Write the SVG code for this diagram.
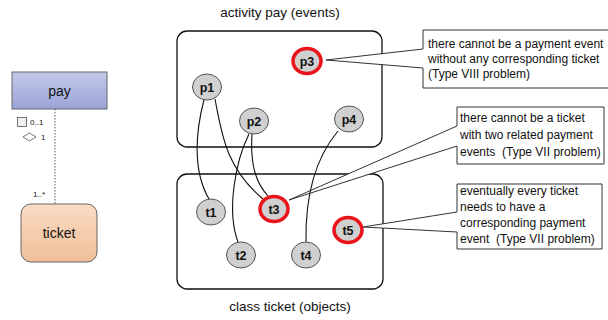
<svg xmlns="http://www.w3.org/2000/svg" width="608" height="320" viewBox="0 0 608 320">
<defs>
<linearGradient id="gPay" x1="0" y1="0" x2="0" y2="1"><stop offset="0" stop-color="#c3c9ea"/><stop offset="1" stop-color="#9aa4d8"/></linearGradient>
<linearGradient id="gTicket" x1="0" y1="0" x2="0" y2="1"><stop offset="0" stop-color="#fadcc4"/><stop offset="1" stop-color="#f0bf98"/></linearGradient>
</defs>
<style>
text{font-family:"Liberation Sans",Arial,sans-serif;fill:#111}
.node ellipse{fill:#d0d0d0;stroke:#555;stroke-width:1}
.node.bad ellipse{stroke:#e8141a;stroke-width:3.5}
.node text{font-size:12.5px;font-weight:bold;text-anchor:middle}
.frame{fill:none;stroke:#111;stroke-width:1.3}
.conn path{fill:none;stroke:#111;stroke-width:1.1}
.callout{fill:#fff;stroke:#333;stroke-width:1}
.ct{font-size:12px}
.small{font-size:8px}
</style>

<!-- UML class diagram -->
<g id="uml-pay">
<rect x="12" y="72" width="95" height="37" fill="url(#gPay)" stroke="#666" stroke-width="1"/>
<text x="59.5" y="96" font-size="14" text-anchor="middle">pay</text>
</g>
<g id="uml-ticket">
<rect x="21" y="204" width="76" height="58" rx="10" fill="url(#gTicket)" stroke="#666" stroke-width="1"/>
<text x="59" y="238" font-size="14" text-anchor="middle">ticket</text>
</g>
<g id="uml-assoc">
<line x1="55" y1="109" x2="55" y2="204" stroke="#555" stroke-width="1" stroke-dasharray="1.5,1.5"/>
<rect x="17.5" y="117.5" width="9" height="9" fill="#eee" stroke="#555" stroke-width="0.8"/>
<text x="30" y="125" class="small">0..1</text>
<polygon points="23,137 29.5,133 36,137 29.5,141" fill="#fff" stroke="#555" stroke-width="0.8"/>
<text x="41" y="140" class="small">1</text>
<text x="33" y="197" class="small">1..*</text>
</g>

<!-- frames -->
<g id="activity-pay">
<rect class="frame" x="177" y="31" width="205" height="116" rx="10"/>
<text x="280" y="17" font-size="13.5" text-anchor="middle">activity pay (events)</text>
</g>
<g id="class-ticket">
<rect class="frame" x="177" y="174" width="206" height="115" rx="10"/>
<text x="290" y="311" font-size="13.5" text-anchor="middle">class ticket (objects)</text>
</g>

<!-- callouts -->
<g id="callout-1">
<path class="callout" d="M423,30 H612 V88 H423 V68 L326,60 L423,49 Z"/>
<text class="ct" x="428" y="48">there cannot be a payment event</text>
<text class="ct" x="428" y="63">without any corresponding ticket</text>
<text class="ct" x="428" y="78">(Type VIII problem)</text>
</g>
<g id="callout-2">
<path class="callout" d="M457,107 H604 V164 H457 V146 L289,200 L457,126 Z"/>
<text class="ct" x="460" y="122">there cannot be a ticket</text>
<text class="ct" x="460" y="139">with two related payment</text>
<text class="ct" x="460" y="156" xml:space="preserve">events  (Type VII problem)</text>
</g>
<g id="callout-3">
<path class="callout" d="M457,184 H602 V249 H457 V232 L363,227 L457,212 Z"/>
<text class="ct" x="460" y="195">eventually every ticket</text>
<text class="ct" x="460" y="211">needs to have a</text>
<text class="ct" x="460" y="227">corresponding payment</text>
<text class="ct" x="460" y="243" xml:space="preserve">event  (Type VII problem)</text>
</g>

<!-- connectors -->
<g id="connectors" class="conn">
<path d="M204,100 C196,130 192,170 209,199"/>
<path d="M215,99 C222,135 226,168 263,199"/>
<path d="M249,134 C236,160 226,210 238,242"/>
<path d="M252,134 C250,165 256,183 268,196"/>
<path d="M338,131 C318,155 305,190 306,242"/>
</g>

<!-- nodes -->
<g id="p1" class="node"><ellipse cx="207" cy="87" rx="14.5" ry="13"/><text x="207" y="91.5">p1</text></g>
<g id="p2" class="node"><ellipse cx="254" cy="121" rx="14.5" ry="13"/><text x="254" y="125.5">p2</text></g>
<g id="p3" class="node bad"><ellipse cx="307" cy="61" rx="14" ry="12.5"/><text x="307" y="65.5">p3</text></g>
<g id="p4" class="node"><ellipse cx="349" cy="119" rx="14.5" ry="13"/><text x="349" y="123.5">p4</text></g>
<g id="t1" class="node"><ellipse cx="211" cy="212" rx="14.5" ry="13"/><text x="211" y="216.5">t1</text></g>
<g id="t2" class="node"><ellipse cx="241" cy="255" rx="14.5" ry="13"/><text x="241" y="259.5">t2</text></g>
<g id="t3" class="node bad"><ellipse cx="274" cy="209" rx="14" ry="12.5"/><text x="274" y="213.5">t3</text></g>
<g id="t4" class="node"><ellipse cx="306" cy="255" rx="14.5" ry="13"/><text x="306" y="259.5">t4</text></g>
<g id="t5" class="node bad"><ellipse cx="348" cy="230" rx="14" ry="12.5"/><text x="348" y="234.5">t5</text></g>
</svg>
